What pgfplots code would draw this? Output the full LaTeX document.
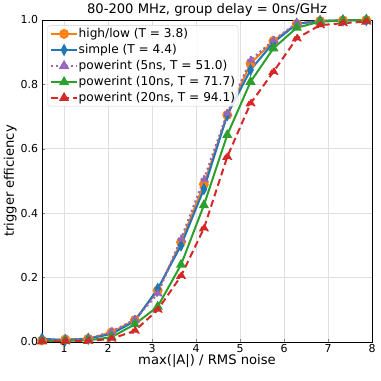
\documentclass[border=0pt]{standalone}
\usepackage{pgfplots}
\pgfplotsset{compat=1.18}
\usepackage{fontspec}
\setmainfont{DejaVu Sans}
\definecolor{tabblue}{HTML}{1F77B4}
\definecolor{taborange}{HTML}{FF7F0E}
\definecolor{tabgreen}{HTML}{2CA02C}
\definecolor{tabred}{HTML}{D62728}
\definecolor{tabpurple}{HTML}{9467BD}
\begin{document}
\begin{tikzpicture}[x=1bp,y=1bp]
\begin{axis}[
  name=ax,
  scale only axis,
  width=330bp, height=322bp,
  xmin=0.5, xmax=8, ymin=0, ymax=1,
  xtick={1,2,3,4,5,6,7,8},
  ytick={0,0.2,0.4,0.6,0.8,1.0},
  yticklabel style={xshift=-0.5bp, /pgf/number format/.cd,fixed,fixed zerofill,precision=1},
  /pgf/number format/assume math mode=true,
  tick align=inside,
  xtick pos=bottom, ytick pos=left,
  major tick length=3.5bp,
  grid=major,
  grid style={gray!25, line width=0.6bp},
  axis line style={line width=0.8bp},
  tick label style={font=\fontsize{11}{13}\selectfont},
  xticklabel style={yshift=1bp},
  label style={font=\fontsize{13.2}{15}\selectfont},
  title style={font=\fontsize{13.2}{15}\selectfont, yshift=-6bp},
  title={80-200 MHz, group delay = 0ns/GHz},
  xlabel={max(|A|) / RMS noise},
  ylabel={trigger efficiency},
  xlabel style={yshift=5bp},
  ylabel style={yshift=-3bp},
  legend cell align=left,
  legend style={font=\fontsize{12.2}{14}\selectfont, draw=gray!35, fill=white, fill opacity=0.85, text opacity=1, rounded corners=2.5bp, inner xsep=2.5bp, inner ysep=1.5bp, row sep=2.5bp,
    nodes={inner sep=0.5bp, text height=9.5bp, text depth=3bp},
    anchor=north west, at={(0.016,0.983)}},
  legend image code/.code={\draw[#1] (0bp,0bp) -- (13bp,0bp) -- (26bp,0bp); \path[#1,solid] plot coordinates {(13bp,0bp)};},
  every axis plot/.append style={line width=2bp, mark size=3.9bp},
]
\addplot[color=taborange, mark=*] coordinates {
(0.50,0.005)(1.03,0.008)(1.55,0.010)(2.08,0.030)(2.61,0.068)(3.13,0.160)(3.66,0.310)(4.18,0.490)(4.71,0.705)(5.24,0.865)(5.76,0.935)(6.29,0.988)(6.82,0.997)(7.34,0.999)(7.87,1.000)};
\addlegendentry{high/low (T = 3.8)}
\addplot[color=tabblue, mark=diamond*, mark options={scale=1.1, xscale=0.7}] coordinates {
(0.50,0.010)(1.03,0.006)(1.55,0.010)(2.08,0.025)(2.61,0.065)(3.13,0.165)(3.66,0.300)(4.18,0.475)(4.71,0.705)(5.24,0.845)(5.76,0.930)(6.29,0.988)(6.82,0.997)(7.34,0.999)(7.87,1.000)};
\addlegendentry{simple (T = 4.4)}
\addplot[color=tabpurple, mark=triangle*, dash pattern=on 2bp off 3bp, line width=2.2bp] coordinates {
(0.50,0.005)(1.03,0.007)(1.55,0.010)(2.08,0.032)(2.61,0.070)(3.13,0.150)(3.66,0.320)(4.18,0.505)(4.71,0.710)(5.24,0.875)(5.76,0.937)(6.29,0.990)(6.82,0.997)(7.34,0.999)(7.87,1.000)};
\addlegendentry{powerint (5ns, T = 51.0)}
\addplot[color=tabgreen, mark=triangle*] coordinates {
(0.50,0.003)(1.03,0.004)(1.55,0.005)(2.08,0.015)(2.61,0.055)(3.13,0.110)(3.66,0.240)(4.18,0.425)(4.71,0.643)(5.24,0.808)(5.76,0.912)(6.29,0.976)(6.82,0.995)(7.34,0.998)(7.87,1.000)};
\addlegendentry{powerint (10ns, T = 71.7)}
\addplot[color=tabred, mark=triangle*, dash pattern=on 7bp off 4bp] coordinates {
(0.50,0.002)(1.03,0.002)(1.55,0.003)(2.08,0.010)(2.61,0.035)(3.13,0.100)(3.66,0.205)(4.18,0.353)(4.71,0.575)(5.24,0.741)(5.76,0.839)(6.29,0.943)(6.82,0.984)(7.34,0.990)(7.87,0.995)};
\addlegendentry{powerint (20ns, T = 94.1)}
\end{axis}
\pgfresetboundingbox
\path (ax.south west) ++(-42bp,-39bp) (ax.north east) ++(9bp,20bp);
\end{tikzpicture}
\end{document}
